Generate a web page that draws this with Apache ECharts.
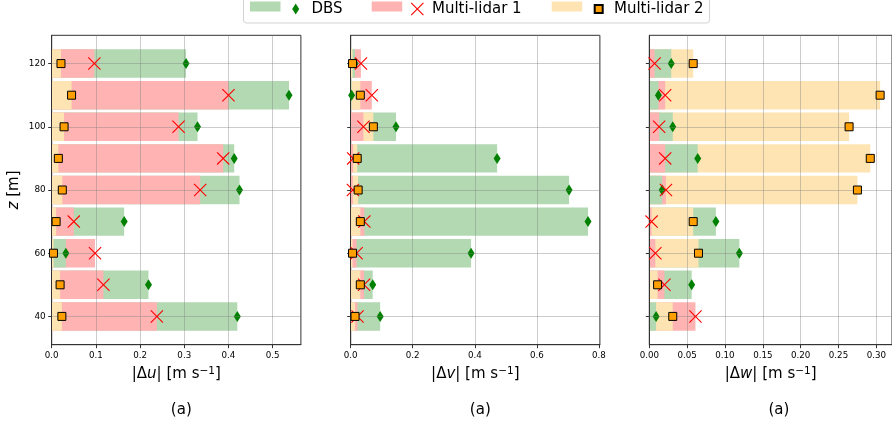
<!DOCTYPE html>
<html>
<head>
<meta charset="utf-8">
<script src="https://cdn.jsdelivr.net/npm/echarts@6/dist/echarts.min.js"></script>
<style>html,body{margin:0;padding:0;background:#fff}#c{width:892px;height:427px}</style>
</head>
<body>
<div id="c"></div>
<script>
// ---- data ----
const heights = [40, 50, 60, 70, 80, 90, 100, 110, 120];
const zTicks = [40, 60, 80, 100, 120];

const du_dbs = [0.420, 0.219, 0.032, 0.164, 0.425, 0.413, 0.330, 0.537, 0.304];
const du_ml1 = [0.238, 0.117, 0.098, 0.050, 0.336, 0.388, 0.287, 0.400, 0.0965];
const du_ml2 = [0.023, 0.019, 0.004, 0.010, 0.024, 0.015, 0.028, 0.045, 0.021];

const dv_dbs = [0.095, 0.071, 0.388, 0.765, 0.704, 0.472, 0.146, 0.003, 0.014];
const dv_ml1 = [0.022, 0.043, 0.019, 0.044, 0.007, 0.008, 0.041, 0.068, 0.033];
const dv_ml2 = [0.014, 0.031, 0.006, 0.031, 0.024, 0.021, 0.073, 0.031, 0.006];

const dw_dbs = [0.009, 0.056, 0.119, 0.088, 0.017, 0.064, 0.031, 0.012, 0.029];
const dw_ml1 = [0.061, 0.020, 0.008, 0.003, 0.022, 0.021, 0.013, 0.021, 0.007];
const dw_ml2 = [0.031, 0.011, 0.065, 0.058, 0.275, 0.292, 0.264, 0.305, 0.058];

const xTicksU = [0, 0.1, 0.2, 0.3, 0.4, 0.5];
const xTicksV = [0, 0.2, 0.4, 0.6, 0.8];
const xTicksW = [0, 0.05, 0.10, 0.15, 0.20, 0.25, 0.30];

const methodNames = ['DBS', 'Multi-lidar 1', 'Multi-lidar 2'];
const panelLetters = ['u', 'v', 'w'];
const panelTags = ['(a)', '(a)', '(a)'];

// ---- styling ----
const FONT = 'DejaVu Sans';
const barColors = ['#b3d9b3', '#ffb3b3', '#ffe4b3'];
const markColors = ['#008000', '#ff0000', '#ffa000'];
const XPATH = 'path://M0,6L6,0L50,44L94,0L100,6L56,50L100,94L94,100L50,56L6,100L0,94L44,50Z';
const markSymbols = ['diamond', XPATH, 'rect'];
const markSizes = [[7, 11], 13, 8];
const GRIDCOL = 'rgba(128,128,128,0.4)';

const panels = [
  { vals: [du_dbs, du_ml1, du_ml2], max: 0.5639, ticks: xTicksU, step: 0.1, dec: 1 },
  { vals: [dv_dbs, dv_ml1, dv_ml2], max: 0.8033, ticks: xTicksV, step: 0.2, dec: 1 },
  { vals: [dw_dbs, dw_ml1, dw_ml2], max: 0.3207, ticks: xTicksW, step: 0.05, dec: 2 }
];
const gridLefts = [51.7, 350.7, 649.3];
const GW = 249.2, GT = 35.3, GH = 309.4;
const HALF = 4.5; // bar half-height in m

const grids = [], xAxes = [], yAxes = [], series = [], titles = [];

panels.forEach((P, p) => {
  grids.push({ left: gridLefts[p], top: GT, width: GW, height: GH, show: true,
    borderColor: '#333', borderWidth: 1, backgroundColor: 'transparent', containLabel: false });
  xAxes.push({
    type: 'value', gridIndex: p, min: 0, max: P.max, interval: P.step, z: 3,
    axisLine: { show: true, lineStyle: { color: '#333', width: 1 } },
    axisTick: { show: true, length: 3.5, lineStyle: { color: '#333' }, customValues: P.ticks },
    axisLabel: { show: true, customValues: P.ticks, margin: 7, fontFamily: FONT, fontSize: 8.7, color: '#000',
      formatter: v => Number(v).toFixed(P.dec) },
    splitLine: { show: true, lineStyle: { color: GRIDCOL, width: 1 } },
    name: '{t||Δ}{i|' + panelLetters[p] + '}{t|| [m s}{s|−1}{t|]}',
    nameLocation: 'middle', nameGap: 20,
    nameTextStyle: { fontFamily: FONT, fontSize: 15, color: '#000',
      rich: {
        t: { fontFamily: FONT, fontSize: 15, color: '#000', lineHeight: 18 },
        i: { fontFamily: FONT, fontSize: 15, fontStyle: 'italic', color: '#000', lineHeight: 18 },
        s: { fontFamily: FONT, fontSize: 10.5, color: '#000', verticalAlign: 'top', lineHeight: 11 }
      } }
  });
  yAxes.push({
    type: 'value', gridIndex: p, min: 31.05, max: 128.95, z: 3,
    axisLine: { show: true, lineStyle: { color: '#333', width: 1 } },
    axisTick: { show: true, length: 3.5, lineStyle: { color: '#333' }, customValues: zTicks },
    axisLabel: { show: p === 0, customValues: zTicks, margin: 6, fontFamily: FONT, fontSize: 8.9, color: '#000' },
    splitLine: { show: false },
    name: p === 0 ? '{i|z} [m]' : '',
    nameLocation: 'middle', nameRotate: 90, nameGap: 30,
    nameTextStyle: { fontFamily: FONT, fontSize: 15, color: '#000',
      rich: { i: { fontFamily: FONT, fontSize: 15, fontStyle: 'italic', color: '#000' } } }
  });

  // overlapping bars, larger value drawn first
  [0, 1, 2].forEach(m => {
    const data = heights.map((z, i) => {
      const own = P.vals[m][i];
      let rank = 0;
      [0, 1, 2].forEach(k => {
        const o = P.vals[k][i];
        if (o > own || (o === own && k < m)) rank++;
      });
      return [own, z, rank];
    });
    const color = barColors[m];
    series.push({
      type: 'custom', name: methodNames[m] + '_bar', xAxisIndex: p, yAxisIndex: p,
      clip: true, z: 2, itemStyle: { color: color },
      encode: { x: 0, y: 1 },
      data: data,
      renderItem: (params, api) => {
        const v = api.value(0), z = api.value(1), r = api.value(2);
        const a = api.coord([0, z + HALF]);
        const b = api.coord([v, z - HALF]);
        return { type: 'rect', z2: r,
          shape: { x: a[0], y: a[1], width: b[0] - a[0], height: b[1] - a[1] },
          style: { fill: color } };
      }
    });
  });

  // horizontal grid lines at the z ticks (drawn over the bars)
  series.push({
    type: 'scatter', name: 'zgrid', xAxisIndex: p, yAxisIndex: p, z: 3, silent: true,
    symbolSize: 0, data: [],
    markLine: { silent: true, symbol: 'none', animation: false, label: { show: false },
      lineStyle: { color: GRIDCOL, width: 1, type: 'solid' },
      data: zTicks.map(z => ({ yAxis: z })) }
  });

  // markers
  [0, 1, 2].forEach(m => {
    series.push({
      type: 'scatter', name: methodNames[m], xAxisIndex: p, yAxisIndex: p,
      clip: true, z: 4 + m, silent: true,
      symbol: markSymbols[m], symbolSize: markSizes[m],
      itemStyle: m === 2 ? { color: markColors[m], borderColor: '#000', borderWidth: 1, opacity: 1 }
                         : { color: markColors[m], opacity: 1 },
      data: heights.map((z, i) => [P.vals[m][i], z])
    });
  });

  titles.push({ text: panelTags[p], left: gridLefts[p] + GW / 2, top: 398, textAlign: 'center',
    textStyle: { fontFamily: FONT, fontSize: 15, fontWeight: 'normal', color: '#000' } });
});

// legends: patch + marker/text for each method
const patchLefts = [250, 371.7, 551.7];
const markLefts = [292.2, 410.8, 593.7];
const markW = [7, 13, 8], markH = [11, 13, 8];
const textPad = [7.3, 3.2, 6.3];
const legends = [];
[0, 1, 2].forEach(m => {
  legends.push({ data: [{ name: methodNames[m] + '_bar', icon: 'rect' }], left: patchLefts[m], top: 1.5,
    itemWidth: 30.5, itemHeight: 10, padding: 0, selectedMode: false, formatter: () => '',
    textStyle: { fontFamily: FONT, fontSize: 15 } });
  legends.push({ data: [{ name: methodNames[m], icon: markSymbols[m] }], left: markLefts[m], top: 1.5,
    itemWidth: markW[m], itemHeight: markH[m], padding: 0, selectedMode: false,
    textStyle: { fontFamily: FONT, fontSize: 15, color: '#000', padding: [0, 0, 0, textPad[m]] } });
});

const chart = echarts.init(document.getElementById('c'), null, { renderer: 'canvas' });
chart.setOption({
  animation: false,
  backgroundColor: '#fff',
  title: titles,
  legend: legends,
  grid: grids,
  xAxis: xAxes,
  yAxis: yAxes,
  series: series,
  graphic: [{ type: 'rect', z: -1, shape: { x: 243.5, y: -3, width: 466, height: 26, r: 3 },
    style: { fill: '#fff', stroke: '#d3d3d3', lineWidth: 1 } }]
});
</script>
</body>
</html>
